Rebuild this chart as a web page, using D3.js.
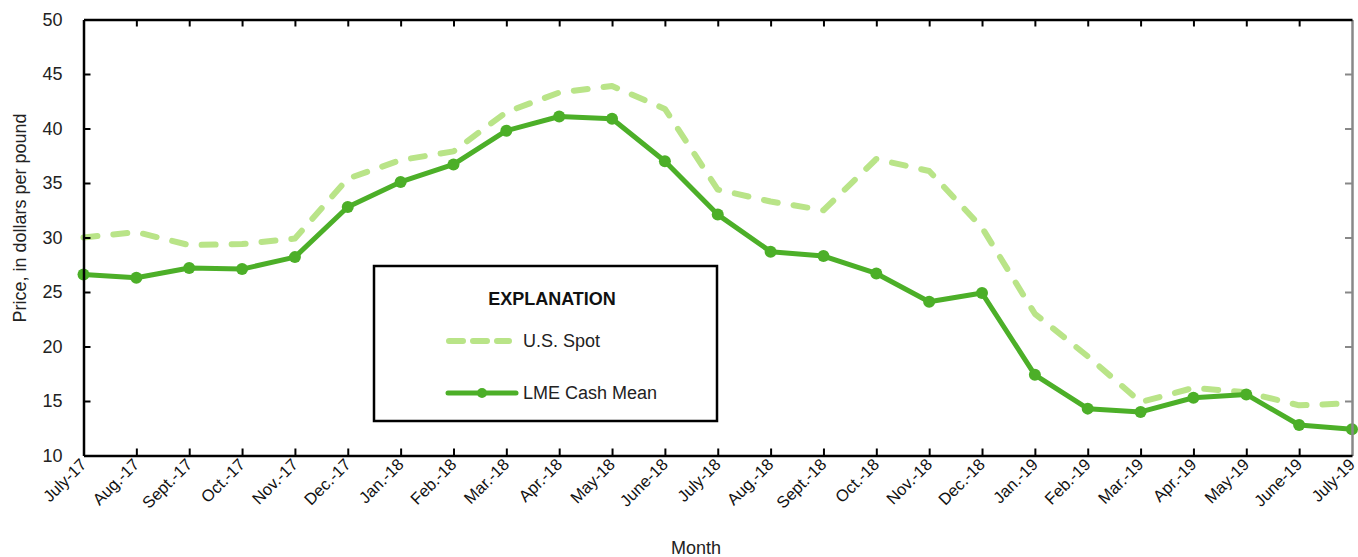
<!DOCTYPE html>
<html>
<head>
<meta charset="utf-8">
<script src="https://cdn.jsdelivr.net/npm/d3@7"></script>
<style>
  body { margin: 0; background: #fff; }
  svg { display: block; }
  .narrow { font-family: "Liberation Sans Narrow", "Arial Narrow", "Liberation Sans", sans-serif; }
  .wide { font-family: "Liberation Sans", Arial, sans-serif; }
</style>
</head>
<body>
<svg id="chart"></svg>
<script>
const months = ['July-17', 'Aug.-17', 'Sept.-17', 'Oct.-17', 'Nov.-17', 'Dec.-17',
  'Jan.-18', 'Feb.-18', 'Mar.-18', 'Apr.-18', 'May-18', 'June-18', 'July-18',
  'Aug.-18', 'Sept.-18', 'Oct.-18', 'Nov.-18', 'Dec.-18', 'Jan.-19', 'Feb.-19',
  'Mar.-19', 'Apr.-19', 'May-19', 'June-19', 'July-19'];
const usSpot = [30.0, 30.5, 29.3, 29.4, 29.9, 35.4, 37.1, 37.9, 41.5, 43.3, 43.9, 41.8, 34.4,
  33.3, 32.5, 37.2, 36.1, 30.9, 23.0, 19.1, 14.9, 16.2, 15.8, 14.6, 14.8];
const lmeCash = [26.6, 26.3, 27.2, 27.1, 28.2, 32.8, 35.1, 36.7, 39.8, 41.1, 40.9, 37.0, 32.1,
  28.7, 28.3, 26.7, 24.1, 24.9, 17.4, 14.3, 14.0, 15.3, 15.6, 12.8, 12.4];
const yTicks = [10, 15, 20, 25, 30, 35, 40, 45, 50];

const width = 1358, height = 557;
const margin = { top: 19.5, right: 6, bottom: 101.5, left: 83.5 };
const innerW = width - margin.left - margin.right;
const innerH = height - margin.top - margin.bottom;

const darkGreen = '#4caf28';
const lightGreen = '#b9e488';

const svg = d3.select('#chart').attr('width', width).attr('height', height);
const g = svg.append('g').attr('transform', `translate(${margin.left},${margin.top})`);

const x = d3.scalePoint().domain(months).range([0, innerW]);
const y = d3.scaleLinear().domain([10, 50]).range([innerH, 0]);

// lines
const line = (vals) => d3.line()
  .x((d, i) => x(months[i]))
  .y((d) => y(d))(vals);

g.append('path')
  .attr('d', line(usSpot))
  .attr('fill', 'none')
  .attr('stroke', lightGreen)
  .attr('stroke-width', 6)
  .attr('stroke-linecap', 'round')
  .attr('stroke-linejoin', 'round')
  .attr('stroke-dasharray', '14,16');

g.append('path')
  .attr('d', line(lmeCash))
  .attr('fill', 'none')
  .attr('stroke', darkGreen)
  .attr('stroke-width', 5)
  .attr('stroke-linejoin', 'round');

g.selectAll('.dot')
  .data(lmeCash)
  .enter().append('circle')
  .attr('class', 'dot')
  .attr('cx', (d, i) => x(months[i]))
  .attr('cy', (d) => y(d))
  .attr('r', 6)
  .attr('fill', darkGreen);

// frame axes (inward ticks)
const tick = 7;
const axLeft = g.append('g').call(d3.axisLeft(y).tickValues(yTicks).tickSize(-tick).tickSizeOuter(0).tickPadding(20));
const axRight = g.append('g').attr('transform', `translate(${innerW},0)`)
  .call(d3.axisRight(y).tickValues(yTicks).tickSize(-tick).tickSizeOuter(0).tickFormat(''));
const axTop = g.append('g').call(d3.axisTop(x).tickSize(-tick).tickSizeOuter(0).tickFormat(''));
const axBottom = g.append('g').attr('transform', `translate(0,${innerH})`)
  .call(d3.axisBottom(x).tickSize(-tick).tickSizeOuter(0).tickFormat(''));

[axLeft, axTop, axBottom].forEach((a) => {
  a.select('.domain').attr('stroke', '#000').attr('stroke-width', 2.5);
  a.selectAll('.tick line').attr('stroke', '#000').attr('stroke-width', 2);
});
axRight.select('.domain').attr('stroke', '#888').attr('stroke-width', 2.5);
axRight.selectAll('.tick line').attr('stroke', '#888').attr('stroke-width', 2);
// first/last ticks coincide with the frame
axTop.selectAll('.tick line').filter((d, i) => i === 0 || i === months.length - 1).remove();
axBottom.selectAll('.tick line').filter((d, i) => i === 0 || i === months.length - 1).remove();
axLeft.selectAll('.tick line').filter((d) => d === 10 || d === 50).remove();
axRight.selectAll('.tick line').filter((d) => d === 10 || d === 50).remove();

axLeft.attr('font-family', null).attr('font-size', null);
axLeft.selectAll('.tick text')
  .attr('class', 'narrow')
  .attr('font-size', 18)
  .attr('fill', '#222')
  .attr('x', -21);

// x labels rotated
g.append('g').selectAll('text')
  .data(months)
  .enter().append('text')
  .attr('class', 'wide')
  .attr('font-size', 16.5)
  .attr('fill', '#111')
  .attr('text-anchor', 'end')
  .attr('transform', (d) => `translate(${x(d) + 4},${innerH + 10}) rotate(-45)`)
  .text((d) => d);

// axis titles
svg.append('text')
  .attr('class', 'narrow')
  .attr('font-size', 18)
  .attr('fill', '#222')
  .attr('text-anchor', 'middle')
  .attr('transform', 'translate(26,218) rotate(-90)')
  .text('Price, in dollars per pound');

svg.append('text')
  .attr('class', 'narrow')
  .attr('font-size', 18)
  .attr('fill', '#222')
  .attr('text-anchor', 'middle')
  .attr('x', 696)
  .attr('y', 554)
  .text('Month');

// legend
const legend = svg.append('g').attr('class', 'legend');
legend.append('rect')
  .attr('x', 374).attr('y', 266)
  .attr('width', 343).attr('height', 155)
  .attr('fill', '#fff')
  .attr('stroke', '#000')
  .attr('stroke-width', 2.5);

legend.append('text')
  .attr('class', 'narrow')
  .attr('font-size', 18)
  .attr('font-weight', 'bold')
  .attr('fill', '#111')
  .attr('text-anchor', 'middle')
  .attr('x', 552).attr('y', 305)
  .text('EXPLANATION');

legend.append('line')
  .attr('x1', 449).attr('x2', 509)
  .attr('y1', 341).attr('y2', 341)
  .attr('stroke', lightGreen)
  .attr('stroke-width', 6)
  .attr('stroke-linecap', 'round')
  .attr('stroke-dasharray', '14,10');

legend.append('text')
  .attr('class', 'narrow')
  .attr('font-size', 18)
  .attr('fill', '#222')
  .attr('x', 523).attr('y', 347)
  .text('U.S. Spot');

legend.append('line')
  .attr('x1', 448).attr('x2', 516)
  .attr('y1', 393).attr('y2', 393)
  .attr('stroke', darkGreen)
  .attr('stroke-width', 5)
  .attr('stroke-linecap', 'round');

legend.append('circle')
  .attr('cx', 482).attr('cy', 393)
  .attr('r', 5)
  .attr('fill', darkGreen);

legend.append('text')
  .attr('class', 'narrow')
  .attr('font-size', 18)
  .attr('fill', '#222')
  .attr('x', 523).attr('y', 399)
  .text('LME Cash Mean');
</script>
</body>
</html>
